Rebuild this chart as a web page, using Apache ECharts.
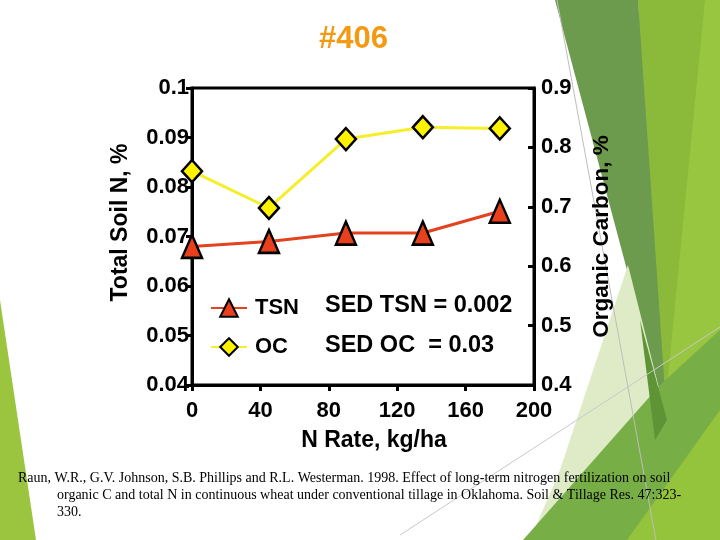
<!DOCTYPE html>
<html>
<head>
<meta charset="utf-8">
<script src="https://cdn.jsdelivr.net/npm/echarts@6/dist/echarts.min.js"></script>
<style>
html,body{margin:0;padding:0;background:#fff;}
#c{width:720px;height:540px;}
</style>
</head>
<body>
<div id="c"></div>
<script>
// N rate (kg/ha)
const nRates = [0, 45, 90, 135, 180];
// Total soil N, %
const tsnValues = [0.068, 0.069, 0.0707, 0.0707, 0.0751];
// Organic carbon, %
const ocValues = [0.760, 0.698, 0.814, 0.834, 0.832];
const leftTicks = [0.04, 0.05, 0.06, 0.07, 0.08, 0.09, 0.1];
const rightTicks = [0.4, 0.5, 0.6, 0.7, 0.8, 0.9];
const xTicks = [0, 40, 80, 120, 160, 200];
const sedLines = ['SED TSN = 0.002', 'SED OC  = 0.03'];
const citation = [
  'Raun, W.R., G.V. Johnson, S.B. Phillips and R.L. Westerman. 1998. Effect of long-term nitrogen fertilization on soil',
  'organic C and total N in continuous wheat under conventional tillage in Oklahoma. Soil & Tillage Res. 47:323-',
  '330.'
];

const F = '"Liberation Sans", Arial, sans-serif';
const SERIF = '14px "Liberation Serif", "Times New Roman", serif';
const chart = echarts.init(document.getElementById('c'));

function poly(points, fill, z) {
  return { type: 'polygon', silent: true, z: z, shape: { points: points }, style: { fill: fill } };
}

const option = {
  backgroundColor: '#ffffff',
  animation: false,
  title: {
    text: '#406',
    left: 314, top: 19,
    textStyle: { color: '#F39A12', fontSize: 31, fontWeight: 'bold', fontFamily: F }
  },
  grid: { left: 192, right: 186, top: 88, bottom: 155, show: true, borderColor: '#000', borderWidth: 3, backgroundColor: 'transparent' },
  legend: {
    orient: 'vertical', left: 205, top: 292, itemWidth: 36, itemHeight: 22, itemGap: 17,
    data: ['TSN', 'OC'],
    textStyle: { fontSize: 22, fontWeight: 'bold', fontFamily: F, color: '#000', padding: [0, 0, 0, 3] }
  },
  xAxis: {
    type: 'value', min: 0, max: 200, interval: 40,
    name: 'N Rate, kg/ha', nameLocation: 'middle', nameGap: 44,
    nameTextStyle: { fontSize: 23, fontWeight: 'bold', fontFamily: F, color: '#000', padding: [0, 0, 0, 22] },
    axisLine: { lineStyle: { color: '#000', width: 3 } },
    axisTick: { inside: false, length: 6, lineStyle: { color: '#000', width: 3 } },
    axisLabel: { margin: 15, fontSize: 22, fontWeight: 'bold', fontFamily: F, color: '#000',
      formatter: v => xTicks.includes(v) ? String(v) : '' },
    splitLine: { show: false }
  },
  yAxis: [
    {
      type: 'value', min: 0.04, max: 0.1, interval: 0.01, position: 'left',
      name: 'Total Soil N, %', nameLocation: 'middle', nameGap: 60,
      nameTextStyle: { fontSize: 23, fontWeight: 'bold', fontFamily: F, color: '#000', padding: [0, 0, 0, 28] },
      axisLine: { show: true, lineStyle: { color: '#000', width: 3 } },
      axisTick: { show: true, length: 6, lineStyle: { color: '#000', width: 3 } },
      axisLabel: { margin: 3, fontSize: 22, fontWeight: 'bold', fontFamily: F, color: '#000',
        formatter: v => { const t = leftTicks.find(x => Math.abs(x - v) < 1e-9); return t === undefined ? '' : String(t); } },
      splitLine: { show: false }
    },
    {
      type: 'value', min: 0.4, max: 0.9, interval: 0.1, position: 'right',
      name: 'Organic Carbon, %', nameLocation: 'middle', nameGap: 56,
      nameTextStyle: { fontSize: 22.5, fontWeight: 'bold', fontFamily: F, color: '#000' },
      axisLine: { show: true, lineStyle: { color: '#000', width: 3 } },
      axisTick: { show: true, length: 6, inside: true, lineStyle: { color: '#000', width: 3 } },
      axisLabel: { margin: 7, fontSize: 22, fontWeight: 'bold', fontFamily: F, color: '#000',
        formatter: v => { const t = rightTicks.find(x => Math.abs(x - v) < 1e-9); return t === undefined ? '' : String(t); } },
      splitLine: { show: false }
    }
  ],
  series: [
    {
      name: 'OC', type: 'line', yAxisIndex: 1, z: 3,
      data: nRates.map((x, i) => [x, ocValues[i]]),
      symbol: 'diamond', symbolSize: [20, 22],
      lineStyle: { color: '#F5EE2A', width: 3 },
      itemStyle: { color: '#FFF200', borderColor: '#000', borderWidth: 2.5 }
    },
    {
      name: 'TSN', type: 'line', yAxisIndex: 0, z: 4,
      data: nRates.map((x, i) => [x, tsnValues[i]]),
      symbol: 'triangle', symbolSize: [20, 23],
      lineStyle: { color: '#E2421E', width: 3 },
      itemStyle: { color: '#E8401C', borderColor: '#000', borderWidth: 2.5 }
    }
  ],
  graphic: [
    // decorative slide background shapes
    poly([[638,0],[720,0],[720,540],[655,540]], '#8BBA3B', -10),
    poly([[705,0],[720,0],[720,540],[652,540]], '#98C641', -9),
    poly([[555,0],[638,0],[667,420]], '#6D9B4D', -8),
    poly([[628,265],[667,420],[530,540],[560,470]], '#DFEBC6', -7),
    poly([[660,385],[720,330],[720,540],[523,540]], '#77AE46', -6),
    poly([[640,320],[667,420],[655,440]], '#5E9436', -5),
    poly([[720,410],[720,540],[627,540]], '#94C33C', -5),
    poly([[0,300],[0,540],[36,540]], '#9CC53F', -5),
    { type: 'line', silent: true, z: -4, shape: { x1: 557, y1: 0, x2: 656, y2: 540 }, style: { stroke: '#BDBDBD', lineWidth: 1 } },
    { type: 'line', silent: true, z: -4, shape: { x1: 400, y1: 535, x2: 720, y2: 327 }, style: { stroke: '#C8C8C8', lineWidth: 1 } },
    // SED annotation
    { type: 'text', left: 325, top: 294, z: 10, style: { text: sedLines[0], font: 'bold 23.5px ' + F, fill: '#000' } },
    { type: 'text', left: 325, top: 334, z: 10, style: { text: sedLines[1], font: 'bold 23.5px ' + F, fill: '#000' } },
    // citation
    { type: 'text', left: 18, top: 471, z: 10, style: { text: citation[0], font: SERIF, fill: '#000' } },
    { type: 'text', left: 57, top: 488, z: 10, style: { text: citation[1], font: SERIF, fill: '#000' } },
    { type: 'text', left: 57, top: 505, z: 10, style: { text: citation[2], font: SERIF, fill: '#000' } }
  ]
};
chart.setOption(option);
</script>
</body>
</html>
